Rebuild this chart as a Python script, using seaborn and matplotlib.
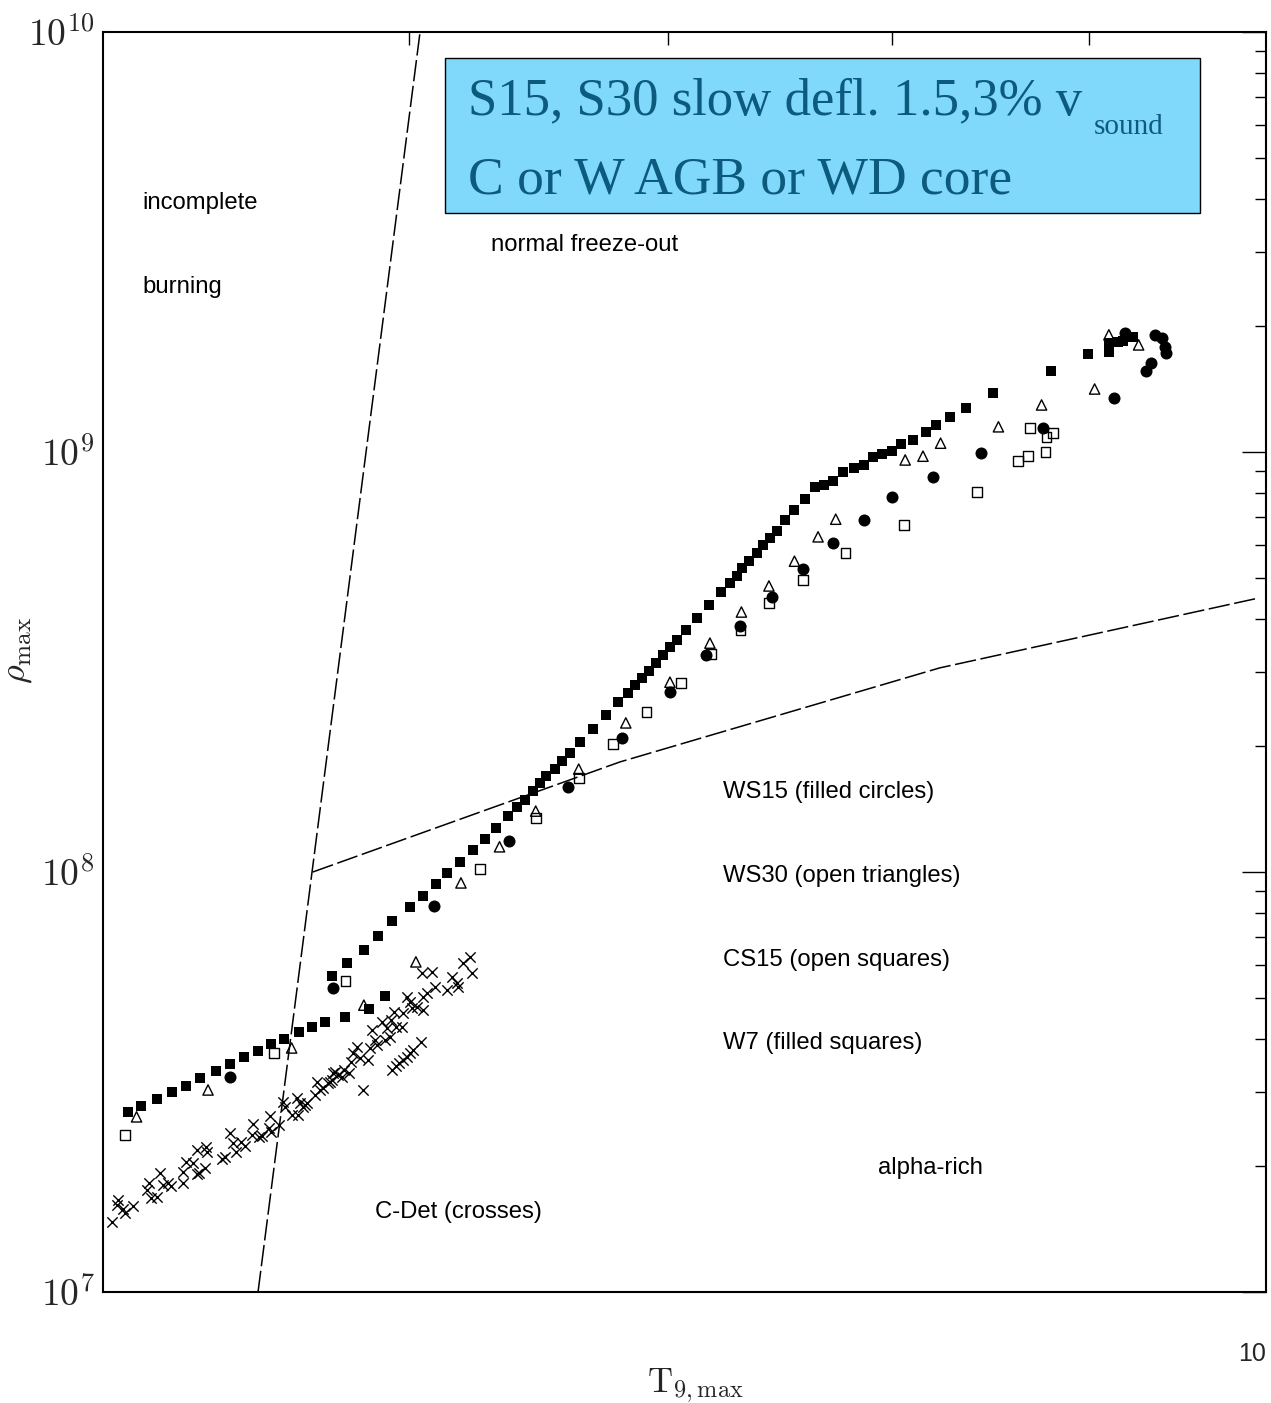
import numpy as np
import pandas as pd
import matplotlib
matplotlib.use("Agg")
import matplotlib.pyplot as plt
import seaborn as sns
from matplotlib.patches import Rectangle
from matplotlib.ticker import NullFormatter

# ---------------- data (T9,max ; log10 rho_max) ----------------
w7_T = [5.075, 5.116, 5.163, 5.209, 5.252, 5.298, 5.348, 5.392, 5.437, 5.484, 5.527, 5.569, 5.618, 5.663, 5.707,
        5.777, 5.858, 5.914,
        5.730, 5.784, 5.841, 5.889, 5.941, 6.004, 6.050, 6.097, 6.139, 6.186, 6.233, 6.277, 6.318, 6.365, 6.399,
        6.429, 6.459, 6.486, 6.512, 6.546, 6.573, 6.604, 6.643, 6.694, 6.748, 6.796, 6.836, 6.864, 6.893, 6.921,
        6.952, 6.981, 7.010, 7.039, 7.076, 7.122, 7.175, 7.226, 7.264, 7.294, 7.319, 7.349, 7.384, 7.410, 7.441,
        7.471, 7.506, 7.550, 7.598, 7.643, 7.684, 7.725, 7.770, 7.823, 7.869, 7.911, 7.953, 8.000, 8.046, 8.103,
        8.165, 8.213, 8.285, 8.362, 8.496, 8.799, 8.992, 9.106, 9.106, 9.155, 9.182, 9.236]
w7_logrho = [7.429, 7.443, 7.460, 7.476, 7.490, 7.510, 7.526, 7.543, 7.560, 7.574, 7.590, 7.602, 7.619, 7.631, 7.643,
             7.655, 7.674, 7.705,
             7.752, 7.783, 7.814, 7.848, 7.883, 7.917, 7.943, 7.971, 7.998, 8.024, 8.052, 8.079, 8.105, 8.133, 8.155,
             8.171, 8.193, 8.212, 8.229, 8.245, 8.264, 8.283, 8.310, 8.340, 8.374, 8.405, 8.426, 8.445, 8.462, 8.479,
             8.498, 8.517, 8.536, 8.552, 8.576, 8.605, 8.636, 8.667, 8.688, 8.705, 8.724, 8.740, 8.760, 8.779, 8.795,
             8.812, 8.838, 8.862, 8.888, 8.917, 8.921, 8.931, 8.952, 8.962, 8.969, 8.988, 8.995, 9.002, 9.019, 9.029,
             9.048, 9.064, 9.083, 9.105, 9.140, 9.193, 9.233, 9.238, 9.260, 9.262, 9.264, 9.274]

ws15_T = [5.392, 5.734, 6.089, 6.369, 6.596, 6.812, 7.010, 7.162, 7.307, 7.449, 7.589, 7.725, 7.869, 8.004, 8.199,
          8.436, 8.758, 9.133, 9.193, 9.360, 9.399, 9.416, 9.422, 9.339, 9.312]
ws15_logrho = [7.512, 7.724, 7.919, 8.074, 8.202, 8.319, 8.429, 8.517, 8.586, 8.655, 8.721, 8.783, 8.838, 8.893, 8.940,
               8.998, 9.057, 9.129, 9.283, 9.279, 9.271, 9.250, 9.236, 9.212, 9.193]

ws30_T = [5.101, 5.323, 5.595, 5.841, 6.025, 6.189, 6.333, 6.471, 6.639, 6.828, 7.010, 7.179, 7.315, 7.436, 7.550,
          7.657, 7.738, 8.065, 8.151, 8.237, 8.526, 8.748, 9.029, 9.106, 9.269]
ws30_logrho = [7.417, 7.481, 7.581, 7.683, 7.786, 7.974, 8.060, 8.145, 8.245, 8.355, 8.452, 8.545, 8.619, 8.681, 8.740,
               8.798, 8.840, 8.981, 8.990, 9.021, 9.060, 9.112, 9.150, 9.279, 9.255]

cs15_T = [5.066, 5.536, 5.777, 6.259, 6.471, 6.639, 6.776, 6.913, 7.056, 7.183, 7.311, 7.436, 7.589, 7.784, 8.060,
          8.417, 8.625, 8.676, 8.687, 8.768, 8.773, 8.808]
cs15_logrho = [7.374, 7.569, 7.740, 8.007, 8.129, 8.224, 8.305, 8.381, 8.450, 8.519, 8.576, 8.640, 8.695, 8.760, 8.826,
               8.905, 8.979, 8.990, 9.057, 9.000, 9.036, 9.045]

cdet_T = [5.027, 5.042, 5.045, 5.060, 5.066, 5.089, 5.134, 5.140, 5.146, 5.163, 5.172, 5.182, 5.197, 5.206, 5.243,
          5.243, 5.255, 5.277, 5.289, 5.295, 5.313, 5.289, 5.316, 5.320, 5.367, 5.377, 5.392, 5.402, 5.411, 5.430,
          5.443, 5.468, 5.465, 5.488, 5.497, 5.523, 5.520, 5.527, 5.553, 5.572, 5.595, 5.612, 5.615, 5.633, 5.646,
          5.673, 5.680, 5.690, 5.717, 5.730, 5.740, 5.750,
          5.566, 5.624, 5.640, 5.700, 5.724, 5.734, 5.764, 5.774, 5.791, 5.797, 5.803, 5.817, 5.827, 5.838, 5.855,
          5.862, 5.869, 5.879, 5.886, 5.903, 5.914, 5.921, 5.931, 5.938, 5.948, 5.955, 5.976, 5.979, 5.993, 6.004,
          6.011, 6.029, 6.050, 6.050, 6.065, 6.082, 6.093, 6.047, 6.139, 6.157, 6.175, 6.178, 6.197, 6.222, 6.230,
          6.043,
          5.941, 5.955, 5.966, 5.979, 5.993, 6.004, 6.015]
cdet_logrho = [7.167, 7.207, 7.219, 7.198, 7.188, 7.205, 7.243, 7.260, 7.224, 7.226, 7.283, 7.255, 7.260, 7.252, 7.260,
               7.286, 7.310, 7.307, 7.281, 7.283, 7.295, 7.338, 7.345, 7.333, 7.317, 7.321, 7.379, 7.355, 7.333, 7.357,
               7.348, 7.400, 7.374, 7.369, 7.371, 7.419, 7.390, 7.381, 7.398, 7.440, 7.421, 7.462, 7.421, 7.440, 7.450,
               7.469, 7.500, 7.481, 7.498, 7.505, 7.524, 7.517,
               7.452, 7.450, 7.445, 7.486, 7.500, 7.521, 7.512, 7.529, 7.521, 7.548, 7.569, 7.583, 7.557, 7.481, 7.552,
               7.581, 7.624, 7.600, 7.588, 7.643, 7.600, 7.629, 7.607, 7.648, 7.667, 7.631, 7.631, 7.664, 7.702, 7.690,
               7.676, 7.679, 7.671, 7.702, 7.712, 7.762, 7.726, 7.760, 7.719, 7.750, 7.736, 7.726, 7.783, 7.798, 7.760,
               7.595,
               7.529, 7.538, 7.545, 7.552, 7.560, 7.569, 7.576]

# boundary lines
steep_T = [5.484, 6.040]
steep_logrho = [7.0, 10.0]
shallow_T = [5.666, 6.804, 8.233, 9.953]
shallow_logrho = [8.0, 8.262, 8.486, 8.652]

ytick_vals = [1e7, 1e8, 1e9, 1e10]
ytick_labels = [r'$10^{7}$', r'$10^{8}$', r'$10^{9}$', r'$10^{10}$']

region_labels = [("incomplete", 142, 203), ("burning", 142, 287), ("normal freeze-out", 491, 245),
                 ("WS15 (filled circles)", 723, 792), ("WS30 (open triangles)", 723, 876),
                 ("CS15 (open squares)", 723, 960), ("W7 (filled squares)", 723, 1043),
                 ("alpha-rich", 878, 1168), ("C-Det (crosses)", 375, 1212)]

# ---------------- figure ----------------
sns.set_theme(style="white")
plt.rcParams['mathtext.fontset'] = 'cm'
SANS = ['Liberation Sans', 'DejaVu Sans']
plt.rcParams['font.family'] = SANS

W, H = 1271, 1403
fig = plt.figure(figsize=(W / 100, H / 100), dpi=100)
L, R, T, B = 103, 1266, 32, 1292
ax = fig.add_axes([L / W, 1 - B / H, (R - L) / W, (B - T) / H])
ax.set_xscale('log')
ax.set_yscale('log')

def df_of(tv, lr):
    return pd.DataFrame({'T': tv, 'rho': 10 ** np.asarray(lr)})

dash = (0, (14, 3))
for tv, lr in [(steep_T, steep_logrho), (shallow_T, shallow_logrho)]:
    d = df_of(tv, lr)
    ax.plot(d['T'], d['rho'], color='black', lw=1.1, linestyle=dash, zorder=2)

sns.scatterplot(data=df_of(cdet_T, cdet_logrho), x='T', y='rho', marker='x', color='black',
                s=55, linewidth=1.0, ax=ax, zorder=3)
sns.scatterplot(data=df_of(w7_T, w7_logrho), x='T', y='rho', marker='s', color='black',
                s=48, linewidth=0, ax=ax, zorder=4)
sns.scatterplot(data=df_of(ws15_T, ws15_logrho), x='T', y='rho', marker='o', color='black',
                s=75, linewidth=0, ax=ax, zorder=4)
sns.scatterplot(data=df_of(ws30_T, ws30_logrho), x='T', y='rho', marker='^', facecolor='none',
                edgecolor='black', s=55, linewidth=1.0, ax=ax, zorder=5)
sns.scatterplot(data=df_of(cs15_T, cs15_logrho), x='T', y='rho', marker='s', facecolor='none',
                edgecolor='black', s=48, linewidth=1.0, ax=ax, zorder=5)

ax.set_xlim(5, 10)
ax.set_ylim(1e7, 1e10)
ax.set_xlabel('')
ax.set_ylabel('')

ax.set_yticks(ytick_vals)
ax.set_yticklabels(ytick_labels, fontsize=27)
ax.yaxis.set_minor_formatter(NullFormatter())
ax.set_xticks([10])
ax.set_xticklabels(['10'], fontsize=18, family=SANS)
ax.set_xticks([6, 7, 8, 9], minor=True)
ax.xaxis.set_minor_formatter(NullFormatter())
for lab in ax.get_xticklabels():
    lab.set_horizontalalignment('right')

ax.tick_params(which='both', direction='in', top=True, right=True, color='black', width=1.0)
ax.tick_params(axis='y', which='major', length=17, pad=6)
ax.tick_params(axis='y', which='minor', length=8)
ax.tick_params(axis='x', which='major', length=0, pad=36)
ax.tick_params(axis='x', which='minor', length=9)
for sp in ax.spines.values():
    sp.set_color('black')
    sp.set_linewidth(1.5)
    sp.set_visible(True)

# region annotations
for txt, px, py in region_labels:
    ax.text((px - L) / (R - L), (B - py) / (B - T), txt, transform=ax.transAxes,
            ha='left', va='center', fontsize=17.2, family=SANS, color='black')

# blue box
bx0, by0, bx1, by1 = 445, 58, 1200, 213
ax.add_patch(Rectangle(((bx0 - L) / (R - L), (B - by1) / (B - T)), (bx1 - bx0) / (R - L), (by1 - by0) / (B - T),
                       transform=ax.transAxes, facecolor='#80d8fb', edgecolor='black', lw=1.0, zorder=6))
tcol = '#0d5b7c'
serif = ['Liberation Serif', 'DejaVu Serif']
t1 = ax.text((468 - L) / (R - L), (B - 114) / (B - T), "S15, S30 slow defl. 1.5,3% v", transform=ax.transAxes,
             ha='left', va='baseline', fontsize=38, family=serif, color=tcol, zorder=7)
ax.text((468 - L) / (R - L), (B - 194) / (B - T), "C or W AGB or WD core", transform=ax.transAxes,
        ha='left', va='baseline', fontsize=38.5, family=serif, color=tcol, zorder=7)
fig.canvas.draw()
bb = t1.get_window_extent()
xs = (bb.x1 + 12) / W
fig.text(xs, 1 - 134 / H, "sound", ha='left', va='baseline', fontsize=21, family=serif, color=tcol, zorder=7)

# axis labels
fig.text(695 / W, 1 - 1386 / H, r'$\mathrm{T}_{9,\mathrm{max}}$', ha='center', va='center', fontsize=25)
fig.text(16 / W, 1 - 650 / H, r'$\rho_{\mathrm{max}}$', ha='center', va='center', rotation=90, fontsize=26)

fig.savefig('out.png', dpi=100)
